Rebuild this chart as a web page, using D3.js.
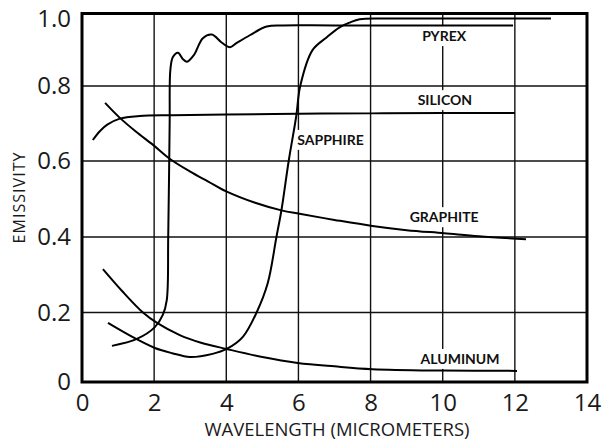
<!DOCTYPE html>
<html>
<head>
<meta charset="utf-8">
<script src="https://cdn.jsdelivr.net/npm/d3@7"></script>
<style>
  body { margin: 0; background: #fff; }
  svg { display: block; }
  .tick text { font-family: "Open Sans", sans-serif; font-weight: 400; font-size: 24px; fill: #1a1a1a; }
</style>
</head>
<body>
<svg id="chart" width="605" height="442"></svg>
<script>
// values (wavelength in micrometers, emissivity 0..1)
const xTicks = [0, 2, 4, 6, 8, 10, 12, 14]
const yTicks = [0, 0.2, 0.4, 0.6, 0.8, 1.0]

const pyrexX = [0.83, 1.52, 2.02, 2.24, 2.35, 2.39, 2.43, 2.45, 2.52, 2.66, 2.8, 2.91, 3.1, 3.35, 3.6, 3.87, 4.1, 4.28, 4.65, 5.12, 5.56, 7, 11.95]
const pyrexY = [0.104, 0.124, 0.158, 0.193, 0.233, 0.4, 0.7, 0.845, 0.88, 0.892, 0.874, 0.867, 0.885, 0.932, 0.942, 0.92, 0.907, 0.918, 0.94, 0.964, 0.967, 0.967, 0.967]

const siliconX = [0.3, 0.5, 0.7, 1.05, 1.6, 2.5, 4, 6, 8, 10, 12]
const siliconY = [0.656, 0.68, 0.697, 0.713, 0.72, 0.722, 0.724, 0.726, 0.727, 0.728, 0.728]

const sapphireX = [0.72, 1.41, 2.02, 2.5, 2.99, 3.62, 4.01, 4.46, 4.84, 5.15, 5.39, 5.53, 5.73, 5.94, 6.05, 6.39, 6.78, 7.14, 7.42, 7.7, 8.5, 13.0]
const sapphireY = [0.17, 0.129, 0.098, 0.083, 0.072, 0.081, 0.095, 0.13, 0.2, 0.278, 0.4, 0.471, 0.6, 0.72, 0.8, 0.899, 0.934, 0.962, 0.975, 0.984, 0.986, 0.986]

const graphiteX = [0.64, 1.05, 1.5, 1.97, 2.43, 3.0, 3.5, 4.0, 4.8, 5.53, 6.03, 7.0, 8.05, 9, 10.04, 11, 12.31]
const graphiteY = [0.755, 0.715, 0.678, 0.643, 0.606, 0.572, 0.546, 0.52, 0.49, 0.47, 0.461, 0.445, 0.429, 0.418, 0.41, 0.402, 0.394]

const aluminumX = [0.58, 1.13, 1.69, 2.08, 2.71, 3.3, 4.01, 5.0, 5.98, 7.0, 8.05, 10.0, 12.06]
const aluminumY = [0.315, 0.255, 0.2, 0.17, 0.135, 0.113, 0.095, 0.072, 0.055, 0.045, 0.037, 0.033, 0.032]

const labelNames = ["PYREX", "SILICON", "SAPPHIRE", "GRAPHITE", "ALUMINUM"]
const labelX = [10.04, 10.06, 6.89, 10.04, 10.48]
const labelY = [0.924, 0.749, 0.643, 0.439, 0.052]

const series = [
    [pyrexX, pyrexY],
    [siliconX, siliconY],
    [sapphireX, sapphireY],
    [graphiteX, graphiteY],
    [aluminumX, aluminumY]
].map(([xs, ys]) => xs.map((v, i) => [v, ys[i]]))

let svg = d3.select("#chart")

let x = d3.scaleLinear().domain([0, 14]).range([82, 587])
// the scan is not quite even vertically, so follow its grid lines
let y = d3.scaleLinear().domain(yTicks).range([382, 312.5, 237, 161, 86, 13.5])

// grid
svg.append("g")
    .selectAll("line")
    .data(xTicks.slice(1, -1))
    .join("line")
    .attr("x1", d => x(d)).attr("x2", d => x(d))
    .attr("y1", y(1)).attr("y2", y(0))
    .attr("stroke", "#111").attr("stroke-width", 1.4)

svg.append("g")
    .selectAll("line")
    .data(yTicks.slice(1, -1))
    .join("line")
    .attr("x1", x(0)).attr("x2", x(14))
    .attr("y1", d => y(d)).attr("y2", d => y(d))
    .attr("stroke", "#111").attr("stroke-width", 1.4)

// white boxes behind the curve names (they break the grid lines)
let boxLayer = svg.append("g")

let line = d3.line()
    .x(d => x(d[0]))
    .y(d => y(d[1]))
    .curve(d3.curveCatmullRom.alpha(0.5))

svg.append("g")
    .selectAll("path")
    .data(series)
    .join("path")
    .attr("d", line)
    .attr("fill", "none")
    .attr("stroke", "#000")
    .attr("stroke-width", 2)

let names = svg.append("g")
    .selectAll("text")
    .data(labelNames)
    .join("text")
    .attr("x", (d, i) => x(labelX[i]))
    .attr("y", (d, i) => y(labelY[i]))
    .attr("text-anchor", "middle")
    .attr("font-family", "Lato, sans-serif")
    .attr("font-weight", "bold")
    .attr("font-size", 14)
    .attr("fill", "#111")
    .text(d => d)

names.each(function () {
    let b = this.getBBox()
    boxLayer.append("rect")
        .attr("x", b.x - 3).attr("y", b.y - 1)
        .attr("width", b.width + 6).attr("height", b.height + 3)
        .attr("fill", "#fff")
})

// frame
svg.append("rect")
    .attr("x", x(0)).attr("y", y(1))
    .attr("width", x(14) - x(0)).attr("height", y(0) - y(1))
    .attr("fill", "none")
    .attr("stroke", "#000")
    .attr("stroke-width", 3)

// axes
svg.append("g")
    .attr("transform", `translate(0,${y(0)})`)
    .call(d3.axisBottom(x).tickValues(xTicks).tickSize(0).tickPadding(12).tickFormat(d3.format("d")))
    .call(g => g.select(".domain").remove())

svg.append("g")
    .attr("transform", `translate(${x(0)},0)`)
    .call(d3.axisLeft(y).tickValues(yTicks).tickSize(0).tickPadding(11)
        .tickFormat(d => d == 0 ? "0" : d3.format(".1f")(d)))
    .call(g => g.select(".domain").remove())
    .call(g => g.selectAll(".tick text").filter(d => d == 1).attr("dy", "0.55em"))

svg.append("text")
    .attr("x", 337).attr("y", 436)
    .attr("text-anchor", "middle")
    .attr("font-family", "Open Sans, sans-serif")
    .attr("font-size", 18.5)
    .attr("fill", "#1a1a1a")
    .text("WAVELENGTH (MICROMETERS)")

svg.append("text")
    .attr("transform", "translate(25,198) rotate(-90)")
    .attr("text-anchor", "middle")
    .attr("font-family", "Open Sans, sans-serif")
    .attr("font-size", 16)
    .attr("textLength", 91)
    .attr("lengthAdjust", "spacing")
    .attr("fill", "#1a1a1a")
    .text("EMISSIVITY")
</script>
</body>
</html>
